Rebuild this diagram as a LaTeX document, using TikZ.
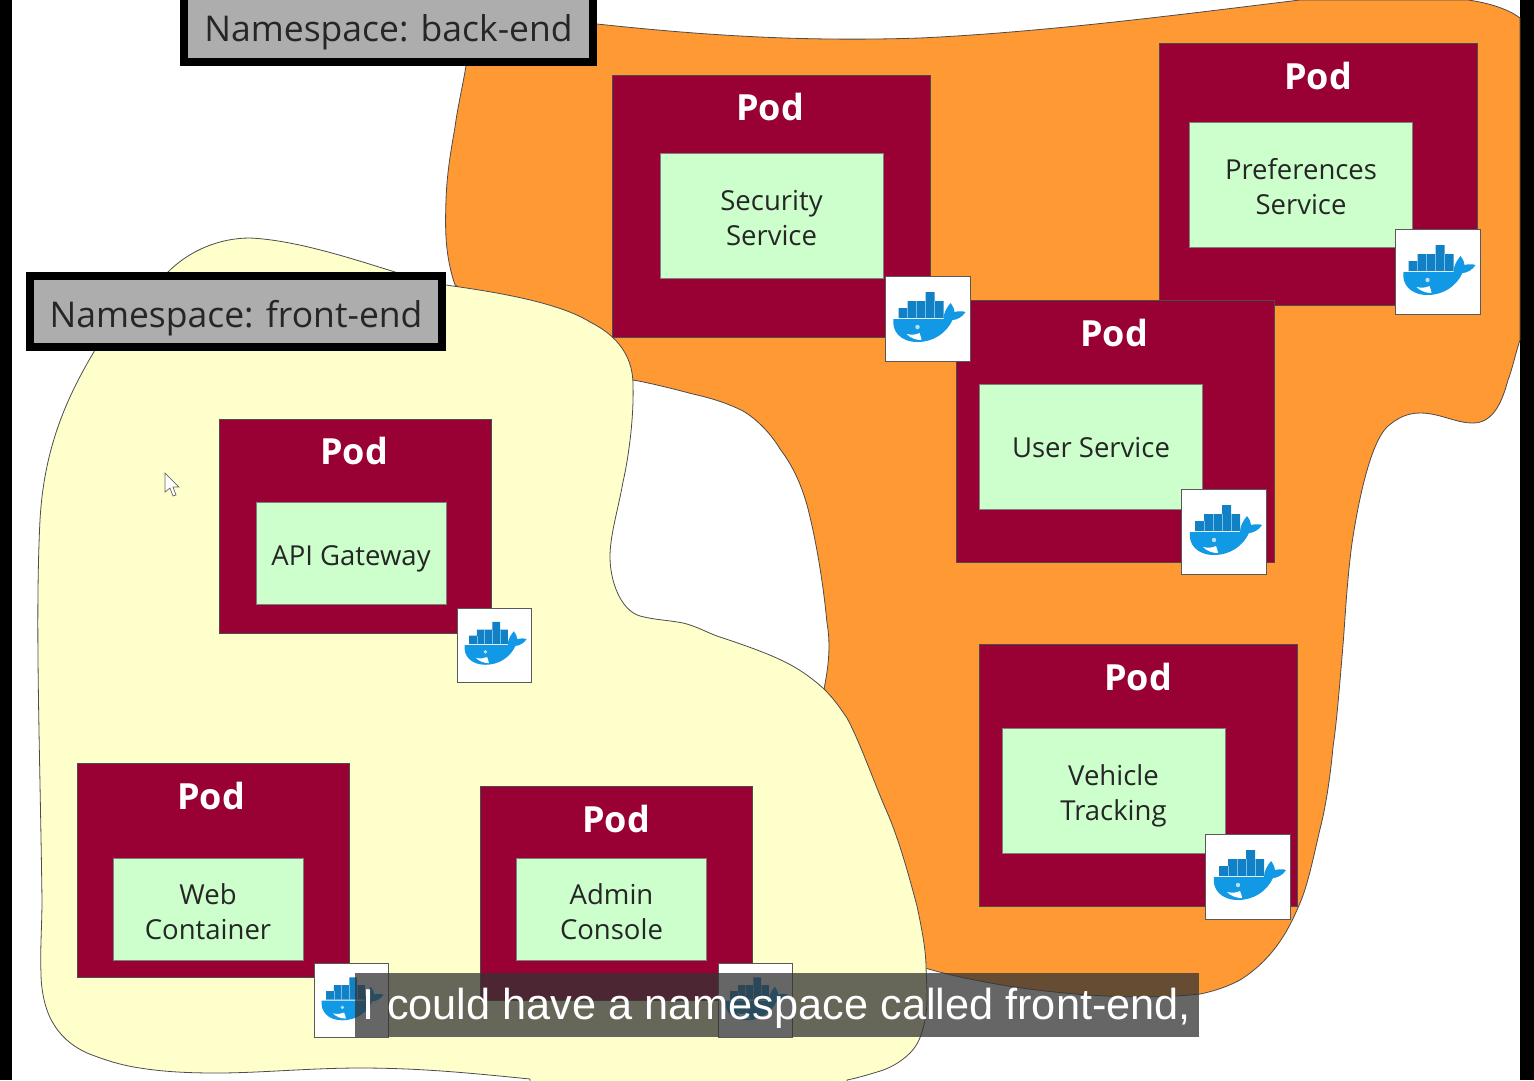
\documentclass[tikz,border=0pt]{standalone}
\usepackage{fontspec}
\setmainfont{Open Sans}
\newfontfamily\captionfont{Liberation Sans}
\usetikzlibrary{positioning}

\definecolor{podred}{HTML}{990033}
\definecolor{svcgreen}{HTML}{CCFFCC}
\definecolor{nsorange}{HTML}{FF9933}
\definecolor{nsyellow}{HTML}{FFFFCC}
\definecolor{nsgray}{HTML}{ADADAD}
\definecolor{whaleblue}{HTML}{1299E6}
\definecolor{crateblue}{HTML}{1280C4}

% pushes a node's text down inside its box
\newcommand{\lowertext}[1]{\rule{0pt}{#1pt}}

\tikzset{
  podbox/.style={draw=black!70, fill=podred, line width=0.8pt, inner sep=0},
  podbig/.style={podbox, minimum width=318, minimum height=262},
  podsmall/.style={podbox, minimum width=272, minimum height=214},
  podtitle/.style={text=white, font=\fontsize{36}{36}\selectfont\bfseries, inner sep=0},
  svcbox/.style={draw=black!50, fill=svcgreen, line width=0.6pt, align=center, inner sep=0,
    text=black!85, font=\fontsize{27.5}{35}\selectfont},
  svcbig/.style={svcbox, minimum width=223, minimum height=125},
  svcsmall/.style={svcbox, minimum width=190, minimum height=102},
  iconbox/.style={draw=black!65, fill=white, line width=0.8pt, inner sep=0},
  iconbig/.style={iconbox, minimum size=85},
  iconsmall/.style={iconbox, minimum size=74},
  nsbox/.style={draw=black, fill=nsgray, line width=8pt, inner sep=0, text=black!85,
    font=\fontsize{35.5}{35.5}\selectfont},
  blob/.style={draw=black!70, line width=0.8pt},
  pics/whale/.style={code={
    \fill[crateblue] (-29,-11) rectangle (16,-1) (-20,-18) rectangle (16,-11) (-2,-27) rectangle (7,-18);
    \foreach \xx in {-20,-11,-2,7} \draw[whaleblue!60, line width=0.4pt] (\xx,-1) -- (\xx,-11);
    \foreach \xx in {-11,-2,7} \draw[whaleblue!60, line width=0.4pt] (\xx,-11) -- (\xx,-18);
    \fill[whaleblue] (-34,0) -- (16,0) .. controls (16,-6) and (19,-11) .. (23,-16)
      .. controls (26,-12) and (27,-9) .. (27,-7) .. controls (31,-8) and (35,-8) .. (38,-7)
      .. controls (35,-2) and (29,1) .. (25,1) .. controls (19,14) and (6,23) .. (-10,23)
      .. controls (-27,23) and (-36,12) .. (-34,0) -- cycle;
    \fill[white] (-21,15) .. controls (-16,16) and (-12,16) .. (-8,14)
      .. controls (-7,17) and (-6,19) .. (-6,21) .. controls (-12,21) and (-17,19) .. (-21,15) -- cycle;
    \fill[white!70!whaleblue] (-10,8) circle (2.2);
  }},
}

\begin{document}
\begin{tikzpicture}[x=1pt, y=-1pt]
  \useasboundingbox (0,0) rectangle (1534,1080);
  \clip (0,0) rectangle (1534,1080);

  % side bars
  \fill[black] (0,0) rectangle (12,1080);
  \fill[black] (1520,0) rectangle (1534,1080);

  % back-end namespace
  \draw[blob, fill=nsorange] (467,60) -- (597,24)
    .. controls (700,35) and (800,42) .. (920,38)
    .. controls (1050,32) and (1200,12) .. (1300,0) -- (1468,0)
    .. controls (1490,3) and (1510,10) .. (1520,18) -- (1520,340)
    .. controls (1515,355) and (1512,370) .. (1508,380)
    .. controls (1503,398) and (1495,423) .. (1473,423)
    .. controls (1455,423) and (1440,413) .. (1420,413)
    .. controls (1405,413) and (1395,420) .. (1387,427)
    .. controls (1372,442) and (1360,490) .. (1352,543)
    .. controls (1347,580) and (1345,620) .. (1343,645)
    .. controls (1340,680) and (1337,720) .. (1333,747)
    .. controls (1330,780) and (1325,810) .. (1320,829)
    .. controls (1315,850) and (1308,885) .. (1300,903)
    .. controls (1290,927) and (1275,958) .. (1240,980)
    .. controls (1225,988) and (1210,992) .. (1200,994)
    .. controls (1120,1003) and (1000,990) .. (925,968)
    -- (824,689)
    .. controls (830,660) and (830,640) .. (827,623)
    .. controls (823,580) and (815,535) .. (807,505)
    .. controls (800,480) and (790,462) .. (780,449)
    .. controls (770,432) and (755,418) .. (743,411)
    .. controls (725,402) and (710,398) .. (693,394)
    .. controls (670,388) and (650,383) .. (633,380)
    -- (455,285)
    .. controls (445,255) and (445,230) .. (446,200)
    .. controls (447,170) and (452,145) .. (455,127)
    .. controls (458,105) and (463,85) .. (467,60) -- cycle;

  % front-end namespace
  \draw[blob, fill=nsyellow] (168,272) .. controls (190,250) and (220,238) .. (250,238)
    .. controls (295,240) and (350,258) .. (395,272)
    -- (446,285) .. controls (480,290) and (555,300) .. (590,322)
    .. controls (610,332) and (633,350) .. (633,385)
    .. controls (634,420) and (628,460) .. (623,482)
    .. controls (618,510) and (610,535) .. (610,557)
    .. controls (610,580) and (620,610) .. (640,616)
    .. controls (655,620) and (668,620) .. (683,623)
    .. controls (696,626) and (706,632) .. (717,636)
    .. controls (735,642) and (765,652) .. (783,661)
    .. controls (798,668) and (812,678) .. (824,689)
    .. controls (835,700) and (840,708) .. (847,718)
    .. controls (860,742) and (875,785) .. (887,812)
    .. controls (900,842) and (910,880) .. (917,906)
    .. controls (922,930) and (926,950) .. (926,968)
    .. controls (927,990) and (928,1005) .. (925,1020)
    .. controls (922,1035) and (918,1045) .. (910,1053)
    .. controls (900,1063) and (888,1069) .. (877,1072)
    .. controls (867,1075) and (857,1078) .. (847,1080)
    -- (847,1090) -- (530,1090) -- (530,1079)
    .. controls (470,1073) and (420,1068) .. (360,1068)
    .. controls (310,1068) and (260,1073) .. (217,1073)
    .. controls (190,1073) and (165,1072) .. (140,1068)
    .. controls (120,1065) and (105,1060) .. (87,1053)
    .. controls (70,1045) and (60,1035) .. (53,1023)
    .. controls (45,1010) and (41,990) .. (41,973)
    .. controls (40,950) and (42,925) .. (42,900)
    .. controls (40,750) and (35,620) .. (40,520)
    .. controls (44,450) and (65,400) .. (95,350)
    -- (168,272) -- cycle;

  % namespace labels
  \node[nsbox, minimum width=409, minimum height=66] (backlabel) at (388.5,29) {\lowertext{34}Namespace: back-end};
  \node[nsbox, minimum width=412, minimum height=71] (frontlabel) at (236,311.5) {\lowertext{40}Namespace: front-end};

  % mouse pointer
  \draw[fill=white, draw=black!60, line width=0.7pt] (165,473) -- (165,492) -- (170,488) -- (173,496)
    -- (176,495) -- (173,487) -- (179,487) -- cycle;

  % back-end pods
  \node[podbig] (secpod) at (771,206) {};
  \node[podbig] (prefpod) at (1318.5,174.5) {};
  \node[podbig] (userpod) at (1115,431.5) {};
  \node[podbig] (vehpod) at (1138.5,775) {};
  \node[podtitle] (sectitle) at (770,107) {Pod};
  \node[podtitle] (preftitle) at (1318,76) {Pod};
  \node[podtitle] (usertitle) at (1114,333) {Pod};
  \node[podtitle] (vehtitle) at (1138,677) {Pod};
  \node[svcbig] (secsvc) at (771.5,215.5) {\lowertext{26}Security\\Service};
  \node[svcbig] (prefsvc) at (1301,184.5) {\lowertext{26}Preferences\\Service};
  \node[svcbig] (usersvc) at (1091,446.5) {\lowertext{23}User Service};
  \node[svcbig] (vehsvc) at (1113.5,790.5) {\lowertext{31}Vehicle\\Tracking};
  \node[iconbig] (secicon) at (927.5,319) {};
  \node[iconbig] (preficon) at (1437.5,272) {};
  \node[iconbig] (usericon) at (1224,532) {};
  \node[iconbig] (vehicon) at (1248,877) {};
  \pic at (secicon) {whale};
  \pic at (preficon) {whale};
  \pic at (usericon) {whale};
  \pic at (vehicon) {whale};

  % front-end pods
  \node[podsmall] (apipod) at (355.5,526) {};
  \node[podsmall] (webpod) at (213.5,870) {};
  \node[podsmall] (adminpod) at (616.5,893.5) {};
  \node[podtitle] (apititle) at (354,451) {Pod};
  \node[podtitle] (webtitle) at (211,796) {Pod};
  \node[podtitle] (admintitle) at (616,819) {Pod};
  \node[svcsmall] (apisvc) at (351,553.5) {\lowertext{31}API Gateway};
  \node[svcsmall] (websvc) at (208,909.5) {\lowertext{26}Web\\Container};
  \node[svcsmall] (adminsvc) at (611.5,909.5) {\lowertext{26}Admin\\Console};
  \node[iconsmall] (apiicon) at (494,645) {};
  \node[iconsmall] (webicon) at (351,1000.5) {};
  \node[iconsmall] (adminicon) at (755,1000.5) {};
  \pic[scale=0.86] at (apiicon) {whale};
  \pic[scale=0.86] at (webicon) {whale};
  \pic[scale=0.86] at (adminicon) {whale};

  % subtitle
  \node[fill=black!80, fill opacity=0.75, text opacity=1, text=white, inner sep=0,
    minimum width=844, minimum height=64, font=\captionfont\fontsize{43.3}{43.3}\selectfont]
    (subtitle) at (777,1005) {\lowertext{37}I could have a namespace called front-end,};
\end{tikzpicture}
\end{document}
